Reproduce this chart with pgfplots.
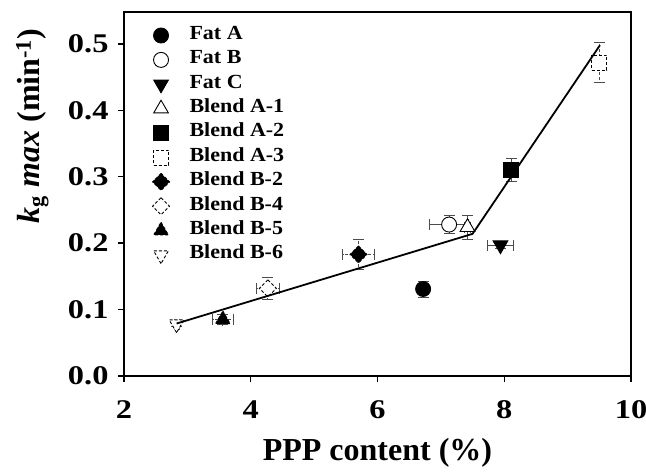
\documentclass[border=0pt]{standalone}
\usepackage{fontspec}
\setmainfont{Liberation Serif}
\newfontfamily\legfont{Liberation Serif}[FakeStretch=1.1]
\newfontfamily\tickfont{Liberation Serif}[FakeStretch=1.2]
\usepackage{pgfplots}
\pgfplotsset{compat=1.18}

\pgfplotsset{
  errs/.style={
    error bars/x dir=both, error bars/x explicit,
    error bars/y dir=both, error bars/y explicit,
    error bars/error bar style={gray!60!black, line width=0.8pt},
    error bars/error mark options={gray!60!black, line width=0.8pt, mark size=5.5pt, rotate=90},
  },
  pt/.style={only marks, black, line width=0.9pt, errs, mark layer=axis foreground,
    legend image code/.code={\draw[mark repeat=2, mark phase=2, ##1]
      plot coordinates {(0pt,0pt) (12pt,0pt) (24pt,0pt)};}},
}

\begin{document}
\begin{tikzpicture}
\begin{axis}[
    set layers=standard,
    scale only axis,
    width=507pt, height=364pt,
    xmin=2, xmax=10, ymin=0, ymax=0.548,
    xtick={2,4,6,8,10},
    ytick={0,0.1,0.2,0.3,0.4,0.5},
    xtick pos=lower, ytick pos=left,
    tick align=outside,
    major tick length=6pt,
    tick style={black, line width=1.4pt},
    axis line style={line width=2.4pt},
    tick label style={font=\tickfont\bfseries\fontsize{27}{27}\selectfont},
    xticklabel style={yshift=-15pt, /pgf/number format/assume math mode=true},
    yticklabel style={xshift=-6pt, /pgf/number format/.cd, fixed, fixed zerofill, precision=1, assume math mode=true},
    xlabel={\textbf{PPP content (\%)}},
    ylabel={\textbf{\textit{k}\textsubscript{g} \textit{max} (min\textsuperscript{-1})}},
    label style={font=\fontsize{32}{32}\selectfont},
    xlabel style={at={(axis description cs:0.5,0)}, anchor=center, yshift=-77pt},
    ylabel style={at={(axis description cs:-0.181,0.687)}, anchor=center},
    legend cell align=left,
    legend style={draw=none, fill=none, at={(axis description cs:0.05,0.975)}, anchor=north west,
      font=\legfont\bfseries\fontsize{20}{20}\selectfont,
      /tikz/column sep=17pt,
      nodes={text height=13pt, text depth=5.4pt, inner sep=3pt}},
]
\addplot+[pt, mark=*, mark size=7.5pt, mark options={fill=black}]
  coordinates {(6.72,0.131) +- (0.03,0.012)};
\addlegendentry{Fat A}
\addplot+[pt, mark=*, mark size=7.5pt, mark options={fill=white}]
  coordinates {(7.13,0.228) +- (0.31,0.014)};
\addlegendentry{Fat B}
\addplot+[pt, mark=triangle*, mark size=8.5pt, mark options={fill=black, rotate=180}]
  coordinates {(7.94,0.197) +- (0.21,0.005)};
\addlegendentry{Fat C}
\addplot+[pt, mark=triangle*, mark size=8.5pt, mark options={fill=white}]
  coordinates {(7.42,0.224) +- (0.05,0.018)};
\addlegendentry{Blend A-1}
\addplot+[pt, mark=square*, mark size=7.5pt, mark options={fill=black}]
  coordinates {(8.11,0.310) +- (0.05,0.017)};
\addlegendentry{Blend A-2}
\addplot+[pt, mark=square*, mark size=7.5pt, mark options={fill=white}]
  coordinates {(9.50,0.472) +- (0.04,0.030)};
\addlegendentry{Blend A-3}
\addplot+[pt, mark=square*, mark size=6pt, mark options={fill=black, rotate=45}]
  coordinates {(5.70,0.183) +- (0.25,0.023)};
\addlegendentry{Blend B-2}
\addplot+[pt, mark=square*, mark size=6pt, mark options={fill=white, rotate=45}]
  coordinates {(4.27,0.132) +- (0.18,0.017)};
\addlegendentry{Blend B-4}
\addplot+[pt, mark=triangle*, mark size=8.5pt, mark options={fill=black}]
  coordinates {(3.56,0.085) +- (0.16,0.008)};
\addlegendentry{Blend B-5}
\addplot+[pt, mark=triangle*, mark size=8.5pt, mark options={fill=white, rotate=180}]
  coordinates {(2.83,0.078) +- (0.04,0.003)};
\addlegendentry{Blend B-6}
% piecewise linear fit
\addplot[black, line width=1.8pt, forget plot, on layer=axis foreground]
  coordinates {(2.83,0.079) (7.50,0.214) (9.51,0.498)};
\coordinate (sw) at (rel axis cs:0,0);
\coordinate (ne) at (rel axis cs:1,1);
\end{axis}
\pgfresetboundingbox
\useasboundingbox ([shift={(-124pt,-97pt)}]sw) rectangle ([shift={(15pt,12pt)}]ne);
\end{tikzpicture}
\end{document}
